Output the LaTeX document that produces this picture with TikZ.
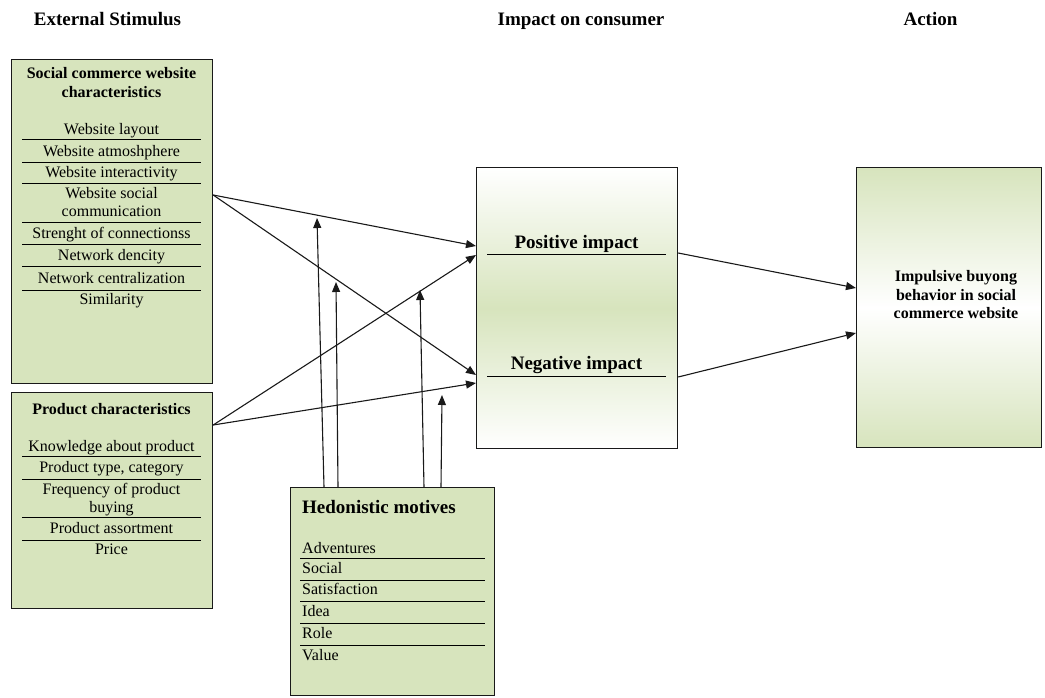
\documentclass[tikz,border=0pt]{standalone}
\usepackage{fontspec}
\setmainfont{Liberation Serif}
\usetikzlibrary{arrows.meta}
\definecolor{lgreen}{RGB}{215,228,189}
\begin{document}
\begin{tikzpicture}[x=1pt,y=-1pt,
  box/.style={draw=black!90, line width=1.2pt, fill=lgreen, inner sep=0pt, anchor=north west},
  sbox/.style={draw=black!90, line width=1.2pt, inner sep=0pt, anchor=north west},
  hd/.style={font=\fontsize{19}{22}\selectfont\bfseries, anchor=base, inner sep=0pt},
  bh/.style={font=\fontsize{16}{18.5}\selectfont\bfseries, anchor=base, inner sep=0pt},
  bigh/.style={font=\fontsize{19}{22}\selectfont\bfseries, anchor=base, inner sep=0pt},
  itm/.style={font=\fontsize{16}{18}\selectfont, anchor=base, inner sep=0pt},
  itl/.style={font=\fontsize{16}{18}\selectfont, anchor=base west, inner sep=0pt},
  sep/.style={line width=1pt, black},
  arr/.style={line width=1.1pt, black!90, -{Triangle[length=10pt,width=8pt]}}]
\useasboundingbox (0,0) rectangle (1045,698);

% column headings
\node[hd] (h1) at (107.5,26) {External Stimulus};
\node[hd] (h2) at (581,26) {Impact on consumer};
\node[hd] (h3) at (930.5,26) {Action};

% boxes
\node[box, minimum width=201pt, minimum height=324pt] (sc) at (11,59) {};
\node[box, minimum width=201pt, minimum height=216pt] (pc) at (11,392) {};
\node[box, minimum width=204pt, minimum height=208pt] (hm) at (290,487) {};
\node[sbox, top color=white, bottom color=white, middle color=lgreen, minimum width=201pt, minimum height=281pt] (imp) at (476,167) {};
\node[sbox, top color=lgreen, bottom color=lgreen, middle color=white, minimum width=185pt, minimum height=280pt] (act) at (856,167) {};

% social commerce box
\node[bh] (sct1) at (111.5,79) {Social commerce website};
\node[bh] (sct2) at (111.5,98) {characteristics};
\node[itm] (s1) at (111.5,135) {Website layout};
\node[itm] (s2) at (111.5,157) {Website atmoshphere};
\node[itm] (s3) at (111.5,178) {Website interactivity};
\node[itm] (s4a) at (111.5,199) {Website social};
\node[itm] (s4b) at (111.5,217) {communication};
\node[itm] (s5) at (111.5,238) {Strenght of connectionss};
\node[itm] (s6) at (111.5,260) {Network dencity};
\node[itm] (s7) at (111.5,283) {Network centralization};
\node[itm] (s8) at (111.5,304) {Similarity};
\foreach \y in {140,163,184,223,244,266,290}
  \draw[sep] (22,\y) -- (201,\y);

% product box
\node[bh] (pct) at (111.5,414) {Product characteristics};
\node[itm] (p1) at (111.5,451) {Knowledge about product};
\node[itm] (p2) at (111.5,472) {Product type, category};
\node[itm] (p3a) at (111.5,494) {Frequency of product};
\node[itm] (p3b) at (111.5,512) {buying};
\node[itm] (p4) at (111.5,533) {Product assortment};
\node[itm] (p5) at (111.5,554) {Price};
\foreach \y in {456,479,517,540}
  \draw[sep] (22,\y) -- (201,\y);

% hedonistic box
\node[bigh, anchor=base west] (hmt) at (302,513) {Hedonistic motives};
\node[itl] (m1) at (302,553) {Adventures};
\node[itl] (m2) at (302,573) {Social};
\node[itl] (m3) at (302,594) {Satisfaction};
\node[itl] (m4) at (302,616) {Idea};
\node[itl] (m5) at (302,638) {Role};
\node[itl] (m6) at (302,660) {Value};
\foreach \y in {558,580,601,623,645}
  \draw[sep] (300,\y) -- (485,\y);

% impact box
\node[bigh] (pos) at (576.5,248) {Positive impact};
\node[bigh] (neg) at (576.5,369) {Negative impact};
\draw[sep] (487,254) -- (666,254);
\draw[sep] (487,376) -- (666,376);

% action box
\node[bh] (a1) at (956,281) {Impulsive buyong};
\node[bh] (a2) at (956,300) {behavior in social};
\node[bh] (a3) at (956,318) {commerce website};

% arrows from stimuli to impact
\draw[arr] (sc.north east |- 0,195) -- (imp.north west |- 0,246);
\draw[arr] (sc.north east |- 0,195) -- (imp.north west |- 0,375);
\draw[arr] (pc.north east |- 0,425) -- (imp.north west |- 0,255);
\draw[arr] (pc.north east |- 0,425) -- (imp.north west |- 0,383);

% moderating arrows from hedonistic motives
\coordinate (t1) at (317,218);
\coordinate (t2) at (336,282);
\coordinate (t3) at (420,290);
\coordinate (t4) at (442,395);
\draw[arr] (324,0 |- hm.north) -- (t1);
\draw[arr] (338,0 |- hm.north) -- (t2);
\draw[arr] (424,0 |- hm.north) -- (t3);
\draw[arr] (441,0 |- hm.north) -- (t4);

% arrows from impact to action
\draw[arr] (imp.north east |- 0,253) -- (act.north west |- 0,288);
\draw[arr] (imp.north east |- 0,377) -- (act.north west |- 0,333);
\end{tikzpicture}
\end{document}
